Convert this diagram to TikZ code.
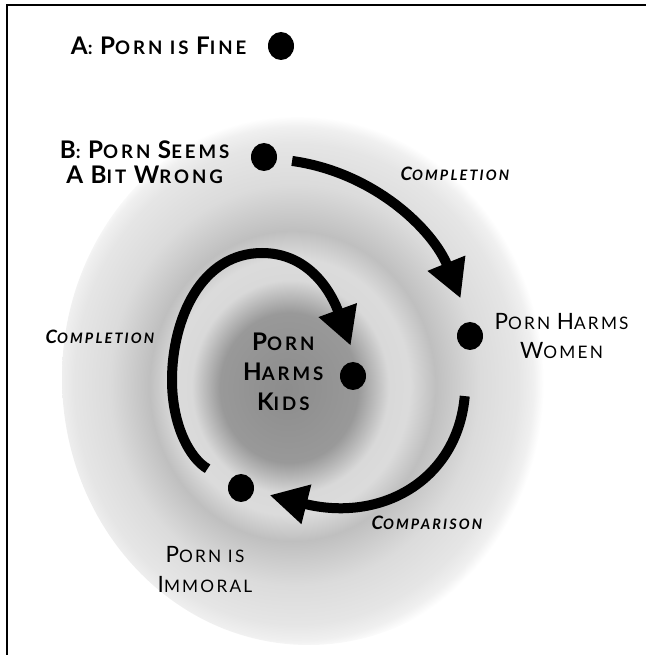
\documentclass[tikz,border=0pt]{standalone}
\usepackage{fontspec}
\setmainfont{Lato}
\usetikzlibrary{positioning,arrows.meta,shapes.geometric}

\pgfdeclareradialshading{swirl}{\pgfpoint{-2.3bp}{-1.1bp}}{%
  color(0bp)=(black!45); color(7bp)=(black!40); color(10bp)=(black!15);
  color(12bp)=(black!14); color(14.5bp)=(black!25); color(18.75bp)=(black!14);
  color(22.5bp)=(black!10); color(24bp)=(black!6); color(25bp)=(white); color(50bp)=(white)}

\def\capsize{13.5}
\newcommand{\Cap}[1]{{\fontsize{\capsize}{\capsize}\selectfont #1}}

\tikzset{
  blob/.style={ellipse, fill=black, minimum width=0.52cm, minimum height=0.56cm, inner sep=0pt},
  claim/.style={align=center, font=\bfseries\addfontfeature{LetterSpace=16}\def\capsize{13.8}\fontsize{10.6}{17}\selectfont},
  view/.style={align=center, font=\addfontfeature{LetterSpace=13}\def\capsize{12.8}\fontsize{9.8}{17}\selectfont},
  step label/.style={font=\bfseries\itshape\addfontfeature{LetterSpace=15}\def\capsize{10.5}\fontsize{8.2}{9}\selectfont},
  flow/.style={line width=0.2cm, -{Triangle[length=0.76cm,width=0.76cm]}}
}

\begin{document}
\begin{tikzpicture}
  \useasboundingbox (0,0) rectangle (12.92,13.1);
  % background
  \shade[shading=swirl] (6.17,5.55) ellipse (4.93 and 5.35);
  \draw[line width=0.04cm] (0.14,0) -- (0.14,13.0) -- (12.92,13.0);

  % positions
  \node[blob] (adot) at (5.62,12.18) {};
  \node[blob] (bdot) at (5.28,9.96) {};
  \node[blob] (wdot) at (9.4,6.38) {};
  \node[blob] (kdot) at (7.06,5.58) {};
  \node[blob] (idot) at (4.82,3.34) {};
  \coordinate (innerw) at (3.44,5.5);
  \coordinate (innern) at (5.24,8.04);

  \node[claim, left=0.3cm of adot] (alabel) {\Cap{A}: \Cap{P}ORN IS \Cap{F}INE};
  \node[claim, left=0.3cm of bdot, yshift=-0.1cm] (blabel) {\Cap{B}: \Cap{P}ORN \Cap{S}EEMS\\[-2.5pt]\Cap{A} \Cap{B}IT \Cap{W}RONG};
  \node[view, right=0.1cm of wdot] (wlabel) {\Cap{P}ORN \Cap{H}ARMS\\\Cap{W}OMEN};
  \node[claim, left=0.2cm of kdot, yshift=0.08cm] (klabel) {\Cap{P}ORN\\\Cap{H}ARMS\\\Cap{K}IDS};
  \node[view, below=0.75cm of idot, xshift=-0.72cm] (ilabel) {\Cap{P}ORN IS\\\Cap{I}MMORAL};

  % arrows
  \draw[flow, shorten <=0.3cm, shorten >=0.5cm] (bdot) to[out=-8, in=112] (wdot.north);
  \draw[flow, shorten <=0.92cm, shorten >=0.32cm] (wdot) to[out=-95, in=-14, looseness=1.3] (idot);
  \draw[flow, shorten <=0.5cm, shorten >=0.35cm] (idot) to[out=150, in=-90] (innerw)
    to[out=90, in=180] (innern) to[out=0, in=110] (kdot.75);

  \node[step label] (comp1) at (9.1,9.62) {\Cap{C}OMPLETION};
  \node[step label] (comp2) at (2.0,6.36) {\Cap{C}OMPLETION};
  \node[step label] (compar) at (8.54,2.64) {\Cap{C}OMPARISON};
\end{tikzpicture}
\end{document}
